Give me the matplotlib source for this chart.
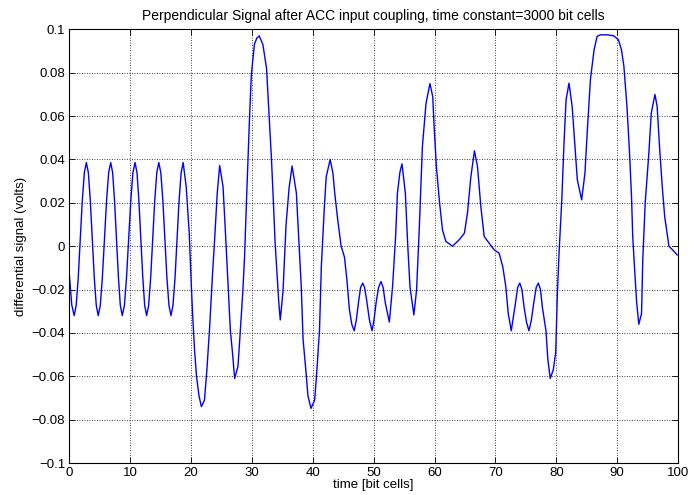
import matplotlib
matplotlib.use("Agg")
import matplotlib.pyplot as plt

plt.rcParams['font.family'] = ['Liberation Sans', 'DejaVu Sans']

# sampled differential signal, (bit cell, volts)
t = [0.0, 0.4, 0.8,
     1.13, 1.47, 1.8, 2.13, 2.47, 2.8,
     3.13, 3.45, 3.78, 4.1, 4.43, 4.75,
     5.09, 5.43, 5.78, 6.12, 6.46, 6.8,
     7.12, 7.43, 7.75, 8.07, 8.38, 8.7,
     9.05, 9.4, 9.75, 10.1, 10.45, 10.8,
     11.12, 11.43, 11.75, 12.07, 12.38, 12.7,
     13.03, 13.37, 13.7, 14.03, 14.37, 14.7,
     15.03, 15.37, 15.7, 16.03, 16.37, 16.7,
     17.03, 17.37, 17.7, 18.03, 18.37, 18.7,
     19.2, 19.7, 20.05, 20.3, 20.6, 20.9, 21.3, 21.7, 22.2, 22.6, 23.06, 23.5,
     23.9, 24.3, 24.7, 25.25, 25.6, 26.07, 26.45, 26.8, 27.16, 27.7, 28.0, 28.5,
     28.8, 29.1, 29.6, 29.9, 30.4, 30.8, 31.2, 31.8, 32.4, 32.9, 33.2, 33.5,
     33.8, 34.1, 34.4, 34.65, 35.1, 35.6, 36.1, 36.6, 37.3, 37.8, 38.1, 38.4,
     38.9, 39.2, 39.7, 40.3, 40.6, 41.1, 41.4, 41.65, 41.9, 42.2, 42.85, 43.3,
     43.6, 44.1, 44.65, 45.2, 45.6, 46.0, 46.4, 46.8, 47.15, 47.5, 47.85, 48.2,
     48.5, 48.85, 49.3, 49.73, 50.05, 50.4, 50.8, 51.2, 51.55, 51.9, 52.57, 53.1,
     53.6, 53.9, 54.3, 54.65, 55.2, 55.6, 55.96, 56.6, 57.05, 57.5, 58.0, 58.6,
     59.24, 59.7, 59.95, 60.3, 60.8, 61.3, 61.86, 62.96, 64.05, 64.9, 65.4, 65.96,
     66.55, 67.05, 67.6, 68.15, 68.96, 69.8, 70.6, 71.2, 71.7, 72.1, 72.6, 73.3,
     73.65, 74.0, 74.35, 74.7, 75.1, 75.5, 75.9, 76.3, 76.7, 77.05, 77.4, 77.7,
     78.3, 78.6, 79.0, 79.5, 79.9, 80.17, 80.45, 80.9, 81.26, 81.6, 82.08, 82.6,
     83.07, 83.45, 84.16, 84.7, 85.1, 85.6, 86.2, 86.7, 87.27, 88.4, 89.45, 90.2,
     90.7, 91.1, 91.6, 92.0, 92.35, 92.55, 92.9, 93.2, 93.55, 94.0, 94.2, 94.6,
     95.2, 95.6, 96.2, 96.56, 96.95, 97.4, 97.8, 98.5, 99.1, 99.85]

v = [-0.013, -0.027, -0.032,
     -0.0273, -0.0144, 0.0033, 0.0210, 0.0339, 0.0386,
     0.0339, 0.0210, 0.0033, -0.0144, -0.0273, -0.032,
     -0.0273, -0.0144, 0.0033, 0.0210, 0.0339, 0.0386,
     0.0339, 0.0210, 0.0033, -0.0144, -0.0273, -0.032,
     -0.0273, -0.0144, 0.0033, 0.0210, 0.0339, 0.0386,
     0.0339, 0.0210, 0.0033, -0.0144, -0.0273, -0.032,
     -0.0273, -0.0144, 0.0033, 0.0210, 0.0339, 0.0386,
     0.0339, 0.0210, 0.0033, -0.0144, -0.0273, -0.032,
     -0.0273, -0.0144, 0.0033, 0.0210, 0.0339, 0.0386,
     0.0275, 0.006, -0.0186, -0.034, -0.049, -0.060, -0.069, -0.074, -0.071, -0.057, -0.037, -0.014,
     0.0045, 0.0245, 0.0372, 0.0275, 0.009, -0.017, -0.0386, -0.049, -0.061, -0.0555, -0.043, -0.021,
     -0.004, 0.0206, 0.059, 0.079, 0.093, 0.096, 0.097, 0.093, 0.082, 0.056, 0.0406, 0.022,
     0.002, -0.0117, -0.0255, -0.034, -0.021, 0.0098, 0.0268, 0.037, 0.0245, -0.003, -0.0186, -0.043,
     -0.0586, -0.069, -0.0748, -0.071, -0.060, -0.0386, -0.0094, 0.0045, 0.0183, 0.032, 0.040, 0.0337,
     0.0245, 0.012, 0.0, -0.005, -0.0155, -0.029, -0.036, -0.039, -0.034, -0.026, -0.019, -0.017,
     -0.019, -0.025, -0.034, -0.039, -0.034, -0.026, -0.019, -0.0163, -0.019, -0.026, -0.035, -0.0186,
     0.0045, 0.0245, 0.034, 0.038, 0.0245, 0.0, -0.0186, -0.0317, -0.020, 0.009, 0.046, 0.066,
     0.075, 0.069, 0.0537, 0.0368, 0.0206, 0.0075, 0.0022, 0.0, 0.003, 0.006, 0.0152, 0.032,
     0.044, 0.0368, 0.0183, 0.0045, 0.0014, -0.0017, -0.0032, -0.0094, -0.0186, -0.031, -0.039, -0.026,
     -0.019, -0.017, -0.020, -0.028, -0.035, -0.039, -0.034, -0.026, -0.019, -0.017, -0.020, -0.028,
     -0.039, -0.052, -0.061, -0.057, -0.049, -0.022, -0.003, 0.0214, 0.0475, 0.0675, 0.0752, 0.0645,
     0.046, 0.0306, 0.0214, 0.0337, 0.0537, 0.0768, 0.0906, 0.0968, 0.0975, 0.0975, 0.097, 0.0952,
     0.0906, 0.083, 0.0645, 0.0445, 0.023, 0.0045, -0.0125, -0.026, -0.036, -0.031, -0.0063, 0.020,
     0.043, 0.0614, 0.070, 0.0645, 0.046, 0.0275, 0.0137, 0.0, -0.0017, -0.004]

xticks = [0, 10, 20, 30, 40, 50, 60, 70, 80, 90, 100]
yticks = [-0.1, -0.08, -0.06, -0.04, -0.02, 0, 0.02, 0.04, 0.06, 0.08, 0.1]
ytick_labels = ['\u22120.1', '\u22120.08', '\u22120.06', '\u22120.04', '\u22120.02', '0',
                '0.02', '0.04', '0.06', '0.08', '0.1']

fig = plt.figure(figsize=(6.91, 4.95), dpi=100)
ax = fig.add_axes([0.1003, 0.0646, 0.881, 0.876])

ax.plot(t, v, color='#0000ff', linewidth=1.0)

ax.set_xlim(0, 100)
ax.set_ylim(-0.1, 0.1)
ax.set_xticks(xticks)
ax.set_yticks(yticks)
ax.set_yticklabels(ytick_labels)
ax.tick_params(direction='in', length=4, labelsize=9.5, width=0.6, top=True, right=True,
               labeltop=False, labelright=False, pad=3)
ax.grid(True, linestyle=(0, (1, 2)), color='black', linewidth=0.6)
for s in ax.spines.values():
    s.set_linewidth(0.8)

ax.set_title('Perpendicular Signal after ACC input coupling, time constant=3000 bit cells',
             fontsize=10, pad=7)
ax.set_xlabel('time [bit cells]', fontsize=9.5, labelpad=0)
ax.set_ylabel('differential signal (volts)', fontsize=9.5, labelpad=3)

fig.savefig('out.png', dpi=100)
